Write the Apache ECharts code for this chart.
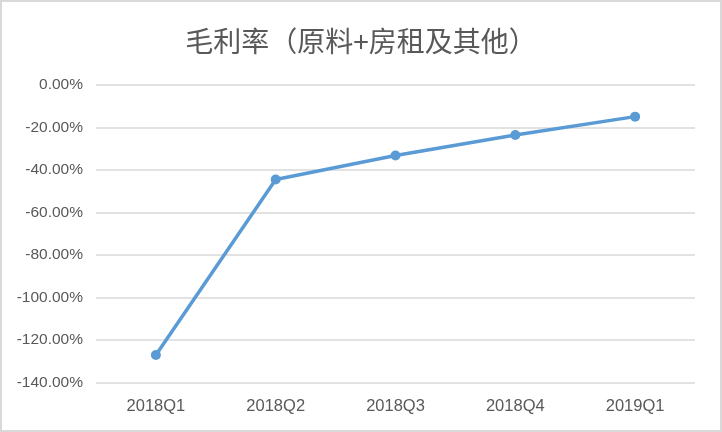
<!DOCTYPE html>
<html><head><meta charset="utf-8">
<script src="https://cdn.jsdelivr.net/npm/echarts@6/dist/echarts.min.js"></script>
<style>html,body{margin:0;padding:0;background:#fff}#c{width:718px;height:428px;border:2px solid #d9d9d9;}</style>
</head><body><div id="c"></div>
<script>
const categories = ['2018Q1','2018Q2','2018Q3','2018Q4','2019Q1'];
const margin = [-127.0, -44.5, -33.3, -23.6, -15.0];
const titleText = '毛利率（原料+房租及其他）';
const chart = echarts.init(document.getElementById('c'));
chart.setOption({
  animation:false,
  title:{text:titleText,left:'center',top:20,textStyle:{fontFamily:'Noto Sans CJK SC',fontSize:28,fontWeight:'normal',color:'#595959'}},
  grid:{left:94,right:25,top:82.7,bottom:47.3},
  xAxis:{type:'category',data:categories,boundaryGap:true,
    axisLine:{show:false},axisTick:{show:false},
    axisLabel:{color:'#595959',fontSize:16.5,fontFamily:'Liberation Sans',margin:15}},
  yAxis:{type:'value',min:-140,max:0,interval:20,
    axisLine:{show:false},axisTick:{show:false},
    splitLine:{lineStyle:{color:'#d9d9d9',width:1.5}},
    axisLabel:{color:'#595959',fontSize:15.5,fontFamily:'Liberation Sans',margin:13,formatter:v=>v.toFixed(2)+'%'}},
  series:[{type:'line',data:margin,symbol:'circle',symbolSize:10,
    lineStyle:{color:'#5b9bd5',width:3.5},itemStyle:{color:'#5b9bd5'}}]
});
</script></body></html>
